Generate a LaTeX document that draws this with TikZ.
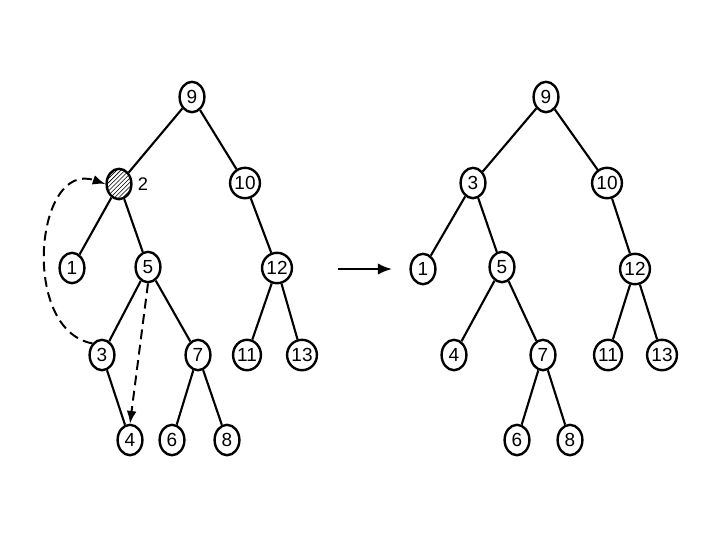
\documentclass[tikz,border=0pt]{standalone}
\usepackage{fontspec}
\setmainfont{Liberation Sans}
\usetikzlibrary{arrows.meta,shapes.geometric,patterns}

\tikzset{
  nd/.style={draw, ellipse, line width=1.7pt, minimum width=0.62cm, minimum height=0.76cm, inner sep=0pt, fill=white, font=\fontsize{13.5}{13.5}\selectfont},
  edge/.style={line width=1.5pt},
  move/.style={line width=1.4pt, dash pattern=on 7pt off 4pt, -{Latex[length=9pt,width=7pt]}}
}

\begin{document}
\begin{tikzpicture}[x=0.025cm, y=-0.025cm]
    \useasboundingbox (0,0) rectangle (720,540);
    % left tree
    \node[nd] (l9) at (192,97) {9};
    \node[nd, pattern=north east lines] (l2) at (119,184) {};
    \node (l2lab) at (143,184) {\fontsize{13}{13}\selectfont 2};
    \node[nd] (l10) at (245,183) {10};
    \node[nd] (l1) at (72,268) {1};
    \node[nd] (l5) at (148,267) {5};
    \node[nd] (l12) at (277,268) {12};
    \node[nd] (l3) at (102,355) {3};
    \node[nd] (l7) at (198,355) {7};
    \node[nd] (l11) at (247,355) {11};
    \node[nd] (l13) at (302,355) {13};
    \node[nd] (l4) at (130,440) {4};
    \node[nd] (l6) at (172,440) {6};
    \node[nd] (l8) at (227,440) {8};
    \draw[edge] (l9) -- (l2);
    \draw[edge] (l9) -- (l10);
    \draw[edge] (l2) -- (l1);
    \draw[edge] (l2) -- (l5);
    \draw[edge] (l5) -- (l3);
    \draw[edge] (l5) -- (l7);
    \draw[edge] (l3) -- (l4);
    \draw[edge] (l7) -- (l6);
    \draw[edge] (l7) -- (l8);
    \draw[edge] (l10) -- (l12);
    \draw[edge] (l12) -- (l11);
    \draw[edge] (l12) -- (l13);
    \draw[move] (l3.north west) .. controls (20,330) and (35,160) .. (l2.west);
    \draw[move] (l5.south) -- (l4.north);
    % arrow
    \coordinate (arrS) at (338,269);
    \coordinate (arrE) at (392,269);
    \draw[line width=1.5pt, -{Latex[length=10pt,width=8pt]}] (arrS) -- (arrE);
    % right tree
    \node[nd] (r9) at (546,97) {9};
    \node[nd] (r3) at (473,183) {3};
    \node[nd] (r10) at (607,183) {10};
    \node[nd] (r1) at (423,269) {1};
    \node[nd] (r5) at (502,267) {5};
    \node[nd] (r12) at (635,269) {12};
    \node[nd] (r4) at (454,355) {4};
    \node[nd] (r7) at (543,355) {7};
    \node[nd] (r11) at (608,355) {11};
    \node[nd] (r13) at (662,355) {13};
    \node[nd] (r6) at (517,440) {6};
    \node[nd] (r8) at (570,440) {8};
    \draw[edge] (r9) -- (r3);
    \draw[edge] (r9) -- (r10);
    \draw[edge] (r3) -- (r1);
    \draw[edge] (r3) -- (r5);
    \draw[edge] (r5) -- (r4);
    \draw[edge] (r5) -- (r7);
    \draw[edge] (r7) -- (r6);
    \draw[edge] (r7) -- (r8);
    \draw[edge] (r10) -- (r12);
    \draw[edge] (r12) -- (r11);
    \draw[edge] (r12) -- (r13);
\end{tikzpicture}
\end{document}
